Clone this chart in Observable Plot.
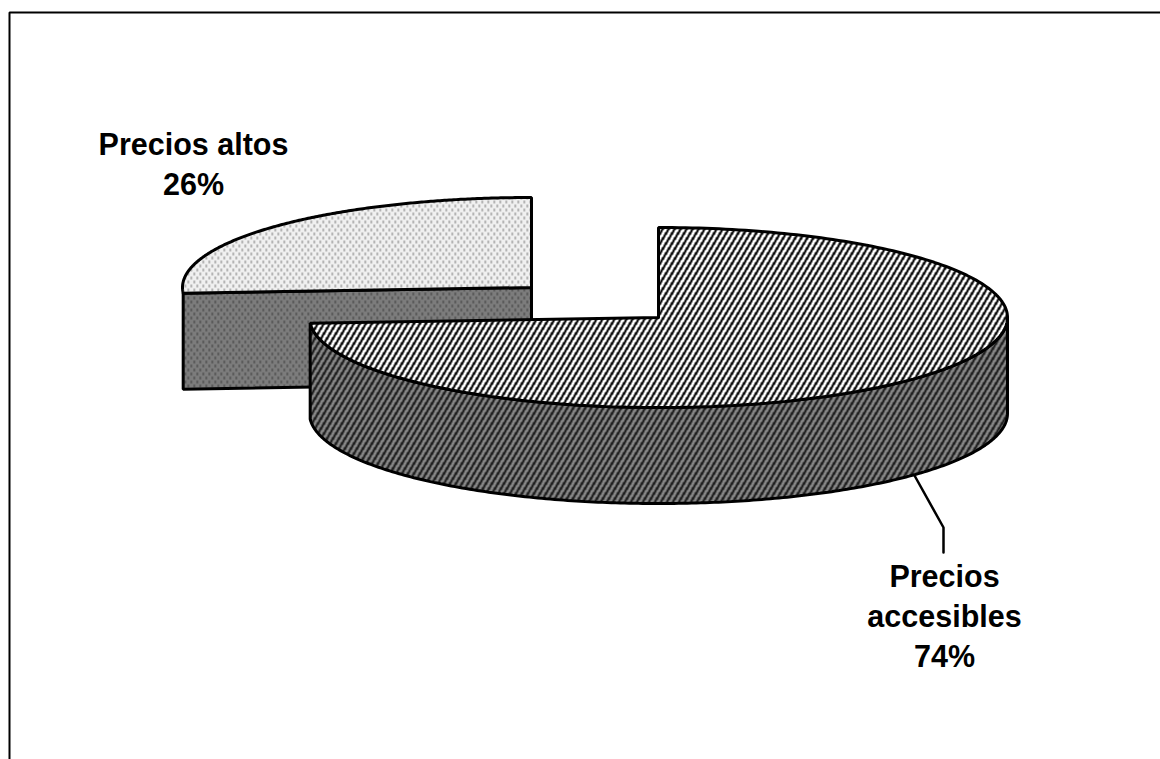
<!DOCTYPE html>
<html>
<head>
<meta charset="utf-8">
<script src="https://cdn.jsdelivr.net/npm/d3@7"></script>
<script src="https://cdn.jsdelivr.net/npm/@observablehq/plot@0.6"></script>
<style>
  html, body { margin: 0; padding: 0; background: #fff; }
  svg { display: block; }
</style>
</head>
<body>
<div id="chart"></div>
<script>
// Survey result: share of answers per price perception
const categories = ["Precios accesibles", "Precios altos"];
const shares = [74, 26];
const labelLines = ["Precios\naccesibles\n74%", "Precios altos\n26%"];

// Tilted-pie geometry, in pixels relative to the centre of the first slice
const radiusX = 349;
const radiusY = 90;
const depth = 96;
const explode = [{dx: 0, dy: 0}, {dx: -127, dy: -30}];
const labelSpots = [{x: 286, y: 241}, {x: -465, y: -191}];
const leader = [{x: 256, y: 158}, {x: 285, y: 210}, {x: 285, y: 235}];
const frameLeft = -649;
const frameTop = -305;
const frameRight = 502;
const frameBottom = 442;

const total = d3.sum(shares);
const rad = (turns) => turns * 2 * Math.PI;
const arc = (t0, t1, dx, dy, drop = 0) =>
  d3.range(0, 241).map((i) => {
    const t = rad(t0 + ((t1 - t0) * i) / 240);
    return {x: dx + radiusX * Math.sin(t), y: dy + drop - radiusY * Math.cos(t)};
  });

const turnA = shares[0] / total;
const [a, b] = explode;

// Top faces start at twelve o'clock and run clockwise
const topA = [{x: a.dx, y: a.dy}, ...arc(0, turnA, a.dx, a.dy), {x: a.dx, y: a.dy}];
const topB = [{x: b.dx, y: b.dy}, ...arc(turnA, 1, b.dx, b.dy), {x: b.dx, y: b.dy}];

// Rim of the large slice: visible from three o'clock round to its far edge
const rimA = [
  ...arc(0.25, turnA, a.dx, a.dy),
  ...arc(0.25, turnA, a.dx, a.dy, depth).reverse()
];
rimA.push(rimA[0]);

// Cut face of the small slice, seen through the gap between the slices
const edgeB = arc(turnA, turnA, b.dx, b.dy)[0];
const cutB = [
  edgeB,
  {x: b.dx, y: b.dy},
  {x: b.dx, y: b.dy + depth},
  {x: edgeB.x, y: edgeB.y + depth},
  edgeB
];

const outline = {stroke: "#000", strokeWidth: 3, strokeLinejoin: "miter"};
const xy = {x: "x", y: "y"};

const plot = Plot.plot({
  width: 1160,
  height: 759,
  margin: 0,
  style: {background: "#fff"},
  x: {domain: [-658, 502], range: [0, 1160], axis: null},
  y: {domain: [-317, 442], range: [0, 759], axis: null},
  marks: [
    // Chart frame
    Plot.line([{x: frameLeft, y: frameBottom}, {x: frameLeft, y: frameTop}, {x: frameRight, y: frameTop}],
      {...xy, stroke: "#000", strokeWidth: 2, strokeLinejoin: "miter"}),
    // Small slice
    Plot.line(cutB, {...xy, ...outline, fill: "url(#dotsDark)"}),
    Plot.line(topB, {...xy, ...outline, fill: "url(#dotsLight)"}),
    // Large slice
    Plot.line(rimA, {...xy, ...outline, fill: "url(#hatchDark)"}),
    Plot.line(topA, {...xy, ...outline, fill: "url(#hatchLight)"}),
    // Leader and labels
    Plot.line(leader, {...xy, stroke: "#000", strokeWidth: 2.5, strokeLinejoin: "miter"}),
    Plot.text(labelSpots, {
      x: "x",
      y: "y",
      text: (d, i) => labelLines[i],
      fontFamily: "Liberation Sans",
      fontWeight: "bold",
      fontSize: 30.5,
      lineHeight: 1.31,
      lineAnchor: "top",
      textAnchor: "middle",
      fill: "#000"
    })
  ]
});

// Fill textures for the four surfaces
const stripes = (id, back, front) => `
  <pattern id="${id}" patternUnits="userSpaceOnUse" width="6" height="10">
    <rect width="6" height="10" fill="${back}"/>
    <polygon points="0,10 2.8,10 8.8,0 6,0" fill="${front}" shape-rendering="crispEdges"/>
    <polygon points="-6,10 -3.2,10 2.8,0 0,0" fill="${front}" shape-rendering="crispEdges"/>
  </pattern>`;
const dots = (id, back, front) => `
  <pattern id="${id}" patternUnits="userSpaceOnUse" width="6" height="8">
    <rect width="6" height="8" fill="${back}"/>
    <rect x="1" y="0" width="1.5" height="3" fill="${front}"/>
    <rect x="4" y="4" width="1.5" height="3" fill="${front}"/>
  </pattern>`;
d3.select(plot).insert("defs", ":first-child").html(
  stripes("hatchLight", "#ffffff", "#111111") +
  stripes("hatchDark", "#858585", "#222222") +
  dots("dotsLight", "#f0f0f0", "#a0a0a0") +
  dots("dotsDark", "#7c7c7c", "#505050")
);

document.getElementById("chart").append(plot);
</script>
</body>
</html>
